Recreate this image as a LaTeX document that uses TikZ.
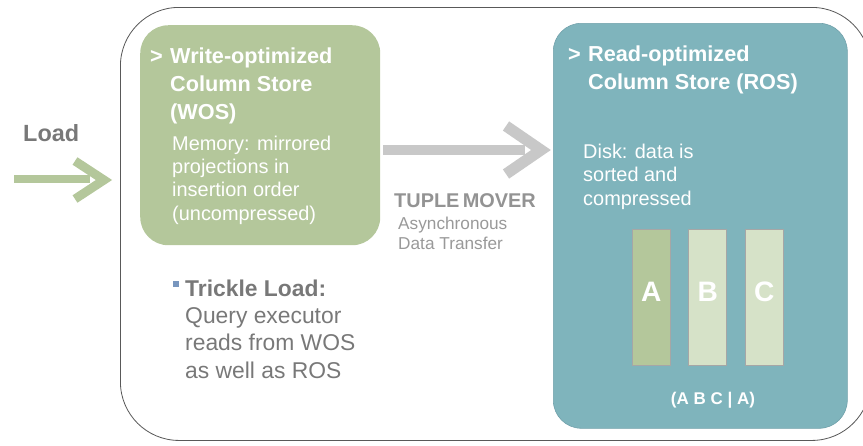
\documentclass[tikz,border=0pt]{standalone}
\usepackage{fontspec}
\setmainfont{Liberation Sans}
\usetikzlibrary{positioning}
\definecolor{wosgreen}{RGB}{180,199,155}
\definecolor{colpale}{RGB}{214,226,200}
\definecolor{rosteal}{RGB}{127,180,188}
\definecolor{rosedge}{RGB}{112,160,170}
\definecolor{movergray}{RGB}{200,200,200}
\definecolor{textgray}{RGB}{120,120,120}
\definecolor{bulletblue}{RGB}{120,150,190}

\begin{document}
\begin{tikzpicture}[x=0.03cm,y=-0.03cm,
	store/.style={rounded corners=24pt,inner sep=0pt,anchor=north west},
	head/.style={anchor=base west,align=left,inner sep=0pt,text=white,font=\bfseries\fontsize{18.5}{23.8}\selectfont},
	body/.style={anchor=base west,align=left,inner sep=0pt,text=white,font=\fontsize{17}{19.8}\selectfont},
	column/.style={draw=gray!70,line width=0.4pt,minimum width=1.14cm,minimum height=4.08cm,inner sep=0pt},
	letter/.style={text=white,font=\bfseries\fontsize{24}{28}\selectfont},
	open head/.style={line width=#1,miter limit=10,line join=miter}]
\useasboundingbox (0,0) rectangle (863,445);
\clip (0,0) rectangle (863,445);
\node[store,draw=black!65,line width=0.7pt,rounded corners=50pt,minimum width=22.5cm,minimum height=12.99cm] (outer) at (120,7) {};
\node[store,fill=wosgreen,minimum width=7.2cm,minimum height=6.6cm] (wos) at (140,25) {};
\node[store,fill=rosteal,draw=rosedge,line width=0.5pt,minimum width=8.82cm,minimum height=12.15cm] (ros) at (553,23) {};

% multi-line nodes sit on their last baseline
\node[head] (wosgt) at (150,63) {>};
\node[head] (wostitle) at (170,119) {Write-optimized\\Column Store\\(WOS)};
\node[body] (wosbody) at (172,220) {Memory: mirrored\\projections in\\insertion order\\(uncompressed)};
\node[head] (rosgt) at (568,61) {>};
\node[head] (rostitle) at (588,89) {Read-optimized\\Column Store (ROS)};
\node[body] (rosbody) at (583,205) {Disk: data is\\sorted and\\compressed};

\node[column,fill=wosgreen,anchor=north west] (colA) at (632,229) {};
\node[column,fill=colpale,right=0.54cm of colA] (colB) {};
\node[column,fill=colpale,right=0.54cm of colB] (colC) {};
\foreach \c in {A,B,C}
	\node[letter] (let\c) at ([yshift=5pt]col\c.center) {\c};
\node[text=white,font=\bfseries\fontsize{14.5}{17}\selectfont] (layout) at (713,400) {(A B C | A)};

% load arrow
\node[anchor=base west,inner sep=0pt,text=textgray,font=\bfseries\fontsize{20}{24}\selectfont] (load) at (23,141) {Load};
\coordinate (ls) at (14,179);
\coordinate (le) at (90,179);
\draw[wosgreen,line width=6.8pt] (ls) -- (le);
\draw[wosgreen,open head=7.6pt] (75,161) -- (104,180) coordinate (ltip) -- (75,199);

% tuple mover
\coordinate (ts) at ([xshift=2.5pt]wos.east |- 0,150);
\coordinate (te) at (525,150);
\draw[movergray,line width=7.7pt] (ts) -- (te);
\draw[movergray,open head=9.5pt] (506,126) -- (541,150) coordinate (ttip) -- (506,174);
\node[anchor=base west,inner sep=0pt,text=gray!85,font=\bfseries\fontsize{17}{20}\selectfont] (mover) at (394,207) {TUPLE\,MOVER};
\node[anchor=base west,align=left,inner sep=0pt,text=gray!80,font=\fontsize{14.7}{17}\selectfont] (moversub) at (398,249) {Asynchronous\\Data Transfer};

% trickle load
\node[fill=bulletblue,minimum size=5pt,inner sep=0pt] (bullet) at (176,284) {};
\node[anchor=base west,align=left,inner sep=0pt,text=textgray,font=\fontsize{19.5}{23.2}\selectfont] (trickle) at (185,378) {\textbf{Trickle Load:}\\Query executor\\reads from WOS\\as well as ROS};
\end{tikzpicture}
\end{document}
